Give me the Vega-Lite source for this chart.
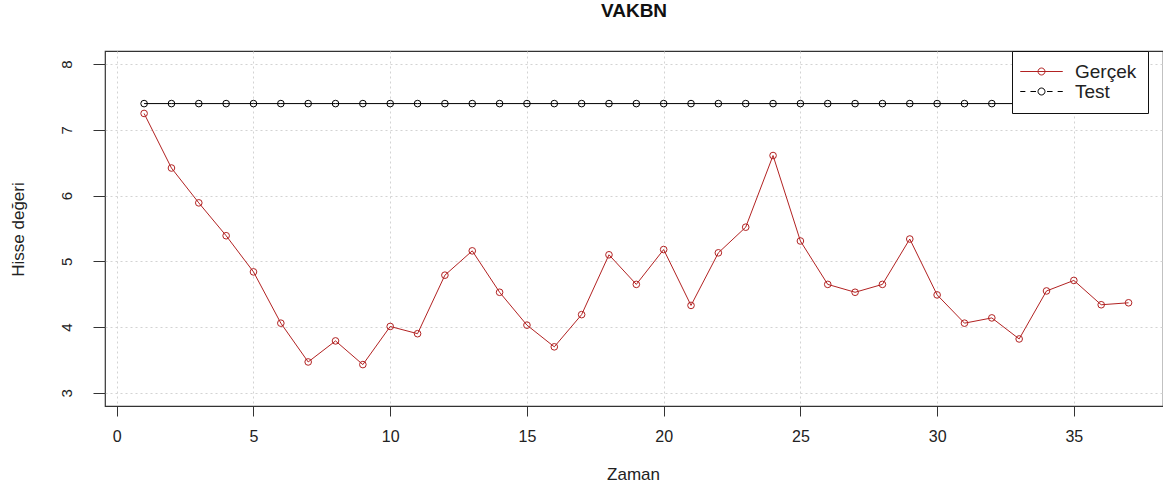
{
  "$schema": "https://vega.github.io/schema/vega-lite/v6.json",
  "width": 1058,
  "height": 355,
  "autosize": "none",
  "padding": {"left": 105, "top": 51, "right": 0, "bottom": 83},
  "background": "white",
  "title": {"text": "VAKBN", "font": "Liberation Sans", "fontSize": 19, "fontWeight": "bold", "color": "#111", "anchor": "middle", "baseline": "alphabetic", "offset": 15},
  "config": {
    "font": "Liberation Sans",
    "view": {"stroke": "#333", "strokeWidth": 1.2},
    "axis": {"labelColor": "#222", "titleColor": "#222", "labelFont": "Liberation Sans", "titleFont": "Liberation Sans", "titleFontWeight": "normal", "gridColor": "#d3d3d3", "gridDash": [2, 3], "gridWidth": 1, "domain": false, "tickColor": "#333", "tickWidth": 1}
  },
  "data": {
    "values": [
      {"x": 1, "y": 7.25, "series": "Gerçek"},
      {"x": 2, "y": 6.42, "series": "Gerçek"},
      {"x": 3, "y": 5.89, "series": "Gerçek"},
      {"x": 4, "y": 5.39, "series": "Gerçek"},
      {"x": 5, "y": 4.84, "series": "Gerçek"},
      {"x": 6, "y": 4.06, "series": "Gerçek"},
      {"x": 7, "y": 3.47, "series": "Gerçek"},
      {"x": 8, "y": 3.79, "series": "Gerçek"},
      {"x": 9, "y": 3.43, "series": "Gerçek"},
      {"x": 10, "y": 4.01, "series": "Gerçek"},
      {"x": 11, "y": 3.90, "series": "Gerçek"},
      {"x": 12, "y": 4.79, "series": "Gerçek"},
      {"x": 13, "y": 5.16, "series": "Gerçek"},
      {"x": 14, "y": 4.53, "series": "Gerçek"},
      {"x": 15, "y": 4.03, "series": "Gerçek"},
      {"x": 16, "y": 3.70, "series": "Gerçek"},
      {"x": 17, "y": 4.19, "series": "Gerçek"},
      {"x": 18, "y": 5.10, "series": "Gerçek"},
      {"x": 19, "y": 4.65, "series": "Gerçek"},
      {"x": 20, "y": 5.18, "series": "Gerçek"},
      {"x": 21, "y": 4.33, "series": "Gerçek"},
      {"x": 22, "y": 5.13, "series": "Gerçek"},
      {"x": 23, "y": 5.52, "series": "Gerçek"},
      {"x": 24, "y": 6.61, "series": "Gerçek"},
      {"x": 25, "y": 5.31, "series": "Gerçek"},
      {"x": 26, "y": 4.65, "series": "Gerçek"},
      {"x": 27, "y": 4.53, "series": "Gerçek"},
      {"x": 28, "y": 4.65, "series": "Gerçek"},
      {"x": 29, "y": 5.34, "series": "Gerçek"},
      {"x": 30, "y": 4.49, "series": "Gerçek"},
      {"x": 31, "y": 4.06, "series": "Gerçek"},
      {"x": 32, "y": 4.14, "series": "Gerçek"},
      {"x": 33, "y": 3.82, "series": "Gerçek"},
      {"x": 34, "y": 4.55, "series": "Gerçek"},
      {"x": 35, "y": 4.71, "series": "Gerçek"},
      {"x": 36, "y": 4.34, "series": "Gerçek"},
      {"x": 37, "y": 4.37, "series": "Gerçek"},
      {"x": 1, "y": 7.4, "series": "Test"},
      {"x": 2, "y": 7.4, "series": "Test"},
      {"x": 3, "y": 7.4, "series": "Test"},
      {"x": 4, "y": 7.4, "series": "Test"},
      {"x": 5, "y": 7.4, "series": "Test"},
      {"x": 6, "y": 7.4, "series": "Test"},
      {"x": 7, "y": 7.4, "series": "Test"},
      {"x": 8, "y": 7.4, "series": "Test"},
      {"x": 9, "y": 7.4, "series": "Test"},
      {"x": 10, "y": 7.4, "series": "Test"},
      {"x": 11, "y": 7.4, "series": "Test"},
      {"x": 12, "y": 7.4, "series": "Test"},
      {"x": 13, "y": 7.4, "series": "Test"},
      {"x": 14, "y": 7.4, "series": "Test"},
      {"x": 15, "y": 7.4, "series": "Test"},
      {"x": 16, "y": 7.4, "series": "Test"},
      {"x": 17, "y": 7.4, "series": "Test"},
      {"x": 18, "y": 7.4, "series": "Test"},
      {"x": 19, "y": 7.4, "series": "Test"},
      {"x": 20, "y": 7.4, "series": "Test"},
      {"x": 21, "y": 7.4, "series": "Test"},
      {"x": 22, "y": 7.4, "series": "Test"},
      {"x": 23, "y": 7.4, "series": "Test"},
      {"x": 24, "y": 7.4, "series": "Test"},
      {"x": 25, "y": 7.4, "series": "Test"},
      {"x": 26, "y": 7.4, "series": "Test"},
      {"x": 27, "y": 7.4, "series": "Test"},
      {"x": 28, "y": 7.4, "series": "Test"},
      {"x": 29, "y": 7.4, "series": "Test"},
      {"x": 30, "y": 7.4, "series": "Test"},
      {"x": 31, "y": 7.4, "series": "Test"},
      {"x": 32, "y": 7.4, "series": "Test"},
      {"x": 33, "y": 7.4, "series": "Test"},
      {"x": 34, "y": 7.4, "series": "Test"},
      {"x": 35, "y": 7.4, "series": "Test"},
      {"x": 36, "y": 7.4, "series": "Test"},
      {"x": 37, "y": 7.4, "series": "Test"}
    ]
  },
  "encoding": {
    "x": {
      "field": "x", "type": "quantitative",
      "scale": {"domain": [-0.43, 38.26], "nice": false, "zero": false},
      "axis": {"values": [0, 5, 10, 15, 20, 25, 30, 35], "title": "Zaman", "grid": true, "tickSize": 10, "labelFontSize": 16, "labelBaseline": "alphabetic", "labelAlign": "center", "labelPadding": 25, "titleFontSize": 17, "titleX": 528, "titleY": 73, "titleBaseline": "alphabetic", "titleAlign": "center"}
    },
    "y": {
      "field": "y", "type": "quantitative",
      "scale": {"domain": [2.8, 8.2], "nice": false, "zero": false},
      "axis": {"values": [3, 4, 5, 6, 7, 8], "title": "Hisse değeri", "grid": true, "tickSize": 12, "labelFontSize": 15, "labelAngle": -90, "labelAlign": "center", "labelBaseline": "alphabetic", "labelPadding": 22, "titleFontSize": 17, "titleAngle": -90, "titleX": -82, "titleY": 178, "titleAlign": "center", "titleBaseline": "alphabetic"}
    },
    "color": {
      "field": "series", "type": "nominal",
      "scale": {"domain": ["Gerçek", "Test"], "range": ["#b22222", "#000000"]},
      "legend": {
        "orient": "none", "legendX": 907, "legendY": 0, "title": null,
        "fillColor": "white", "strokeColor": "#111", "padding": 11, "rowPadding": 0,
        "labelFontSize": 19, "labelFont": "Liberation Sans", "labelColor": "#222", "labelOffset": 24,
        "symbolSize": 289, "symbolStrokeWidth": 1, "symbolOffset": 9,
        "encode": {
          "symbols": {
            "update": {
              "shape": {"signal": "datum.label === 'Test' ? 'M-2.5,0H-1.9M-1.3,0H-0.65M0.65,0H1.3M1.9,0H2.5M0.41,0A0.41,0.41,0,1,1,-0.41,0A0.41,0.41,0,1,1,0.41,0' : 'M-2.5,0H2.5M0.41,0A0.41,0.41,0,1,1,-0.41,0A0.41,0.41,0,1,1,0.41,0'"},
              "fill": {"value": "transparent"},
              "strokeWidth": {"value": 1},
              "strokeDash": {"value": []},
              "opacity": {"value": 1}
            }
          }
        }
      }
    }
  },
  "layer": [
    {"mark": {"type": "line", "strokeWidth": 1}},
    {"mark": {"type": "point", "shape": "circle", "filled": false, "size": 44, "strokeWidth": 1, "opacity": 1}}
  ]
}
